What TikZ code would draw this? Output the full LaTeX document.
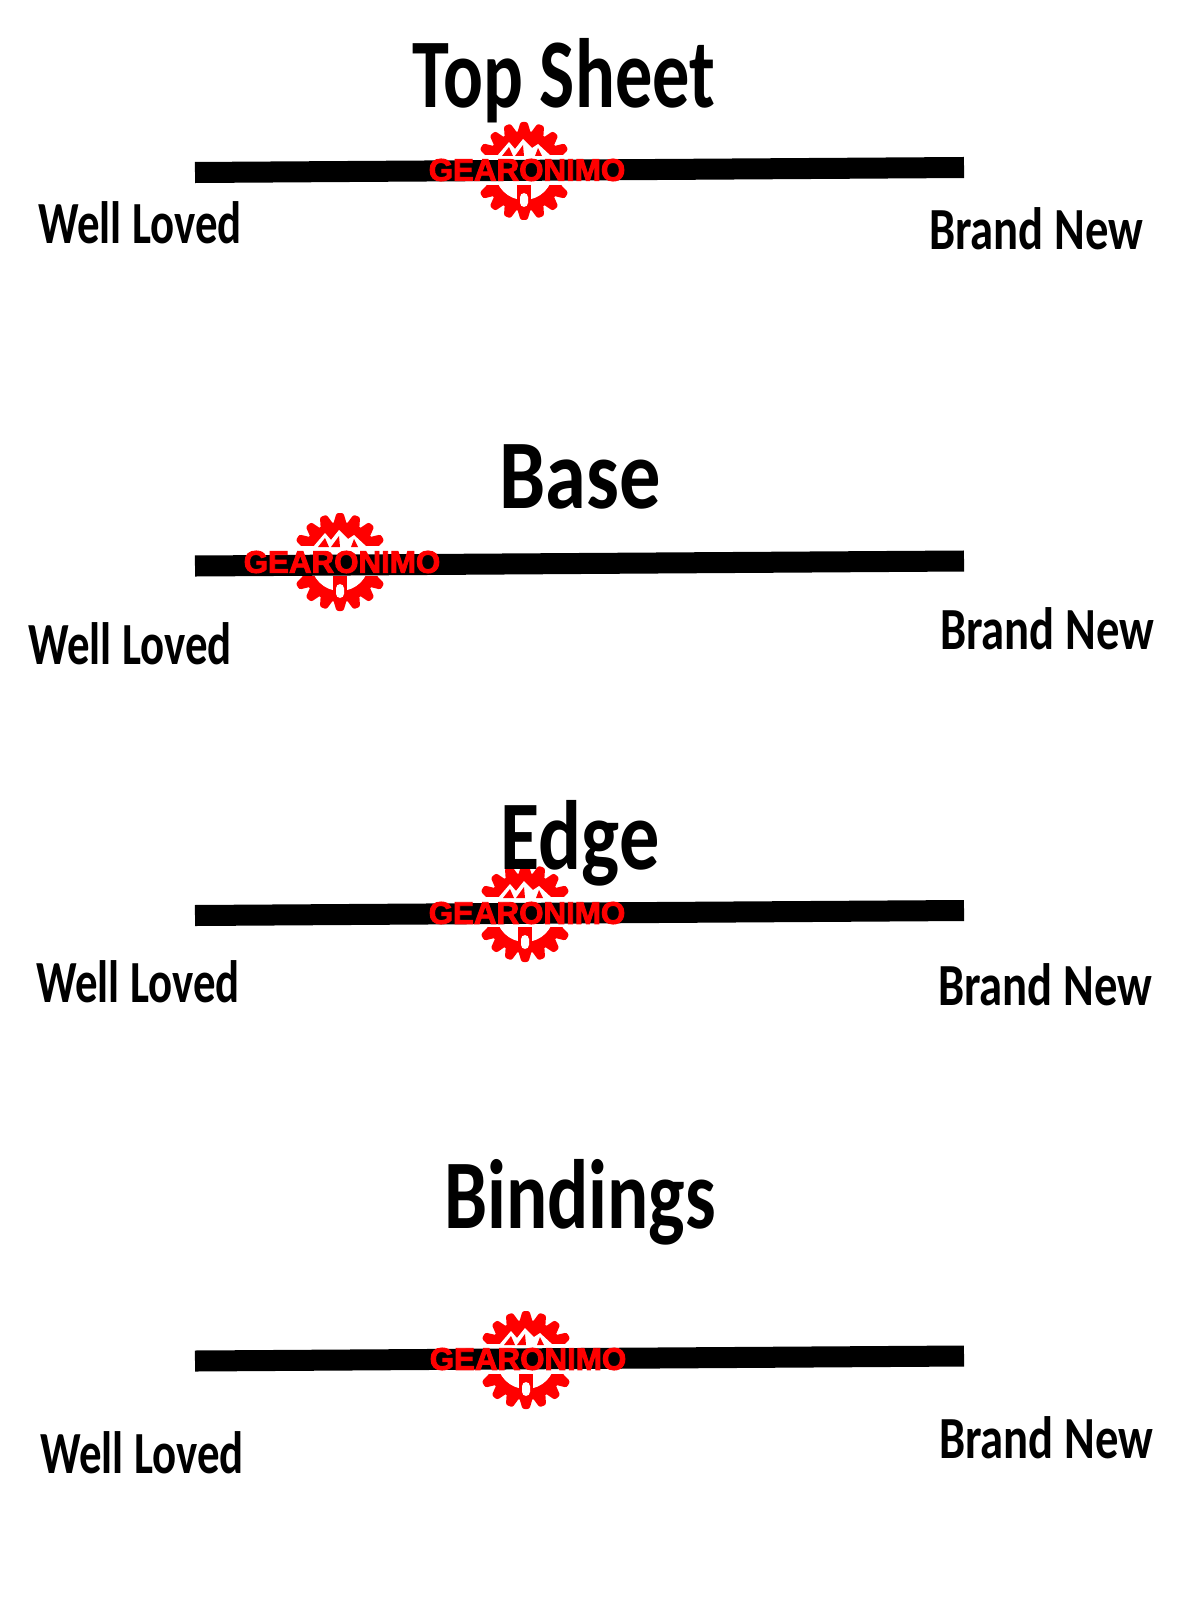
\documentclass[tikz,border=0pt]{standalone}
\usepackage{fontspec}
\newfontfamily\handfont{Carlito}[BoldFont={Carlito Bold}]
\newfontfamily\logofont{Liberation Sans}[BoldFont={Liberation Sans Bold},BoldFeatures={FakeBold=3}]
\definecolor{logored}{RGB}{255,0,0}
\tikzset{
        heading/.style={ % Section titles
            font=\handfont\bfseries\fontsize{28}{28}\selectfont,
            anchor=base,
            inner sep=0pt,
            xscale=.755,
            transform shape},
        endlabel/.style={ % Text under the ends of each bar
            font=\handfont\bfseries\fontsize{17}{17}\selectfont,
            anchor=base,
            inner sep=0pt,
            xscale=.75,
            transform shape},
        newlabel/.style={ % Right hand text runs a bit wider
            endlabel,
            xscale=1.04},
        logotext/.style={ % Red word over the bar
            font=\logofont\bfseries\fontsize{8.9}{8.9}\selectfont,
            text=logored,
            inner sep=0pt},
        ratingbar/.style={
            draw=black,
            line width=.21cm},
        pics/gearlogo/.style={
            code={
                \fill[logored] (0,0) circle (40);
                \foreach \a in {0,20,...,340}
                    \fill[logored,rotate=\a,rounded corners=.6pt] (-7,-37) -- (-3.5,-49) -- (3.5,-49) -- (7,-37) -- cycle;
                \begin{scope}
                    \clip (-40,0) rectangle (40,40);
                    \fill[white] (0,0) circle (29);
                \end{scope}
                \fill[logored] (-7,10) rectangle (7,32);
                \fill[white,rounded corners=1.2pt] (-4,22) rectangle (4,36);
                \fill[white] (-52,-16) rectangle (52,14);
                \fill[white] (-27,-15) -- (-15,-29) -- (-9,-22) -- (-1,-32) -- (8,-23) -- (14,-27) -- (27,-15) -- cycle;
                \fill[logored] (-22,-15) -- (-15,-24) -- (-11,-15) -- cycle;
                \fill[logored] (-9,-15) -- (-1,-26) -- (0,-15) -- cycle;
                \fill[logored] (11,-15) -- (14,-23) -- (18,-15) -- cycle;
            }}
        }

\begin{document}
\begin{tikzpicture}[x=.01cm,y=-.01cm]
    \useasboundingbox (0,0) rectangle (1200,1603);

    % gears go under the bars
    \pic (topGear) at (524,171) {gearlogo};
    \pic (baseGear) at (340,562) {gearlogo};
    \pic (edgeGear) at (525,913) {gearlogo};
    \pic (bindGear) at (526,1360) {gearlogo};

    \coordinate (topL) at (195,172.5);
    \coordinate (topR) at (964,167.5);
    \coordinate (baseL) at (195,566);
    \coordinate (baseR) at (964,561);
    \coordinate (edgeL) at (195,915.5);
    \coordinate (edgeR) at (964,910.5);
    \coordinate (bindL) at (195,1361);
    \coordinate (bindR) at (964,1356);

    \draw[ratingbar] (topL) -- (topR);
    \draw[ratingbar] (baseL) -- (baseR);
    \draw[ratingbar] (edgeL) -- (edgeR);
    \draw[ratingbar] (bindL) -- (bindR);

    \node[logotext] (topWord) at (527,170) {GEARONIMO};
    \node[logotext] (baseWord) at (342,562) {GEARONIMO};
    \node[logotext] (edgeWord) at (527,913) {GEARONIMO};
    \node[logotext] (bindWord) at (528,1359) {GEARONIMO};

    \node[heading] (topTitle) at (564,108) {Top Sheet};
    \node[heading,xscale=1.11] (baseTitle) at (580,508) {Base};
    \node[heading,xscale=1.08] (edgeTitle) at (580,869) {Edge};
    \node[heading,xscale=1.035] (bindTitle) at (580,1228) {Bindings};

    \node[endlabel] (topWorn) at (140,244) {Well Loved};
    \node[newlabel] (topNew) at (1036,250) {Brand New};
    \node[endlabel] (baseWorn) at (130,664) {Well Loved};
    \node[newlabel] (baseNew) at (1047,649) {Brand New};
    \node[endlabel] (edgeWorn) at (138,1002) {Well Loved};
    \node[newlabel] (edgeNew) at (1045,1005) {Brand New};
    \node[endlabel] (bindWorn) at (142,1473) {Well Loved};
    \node[newlabel] (bindNew) at (1046,1458) {Brand New};
\end{tikzpicture}
\end{document}
